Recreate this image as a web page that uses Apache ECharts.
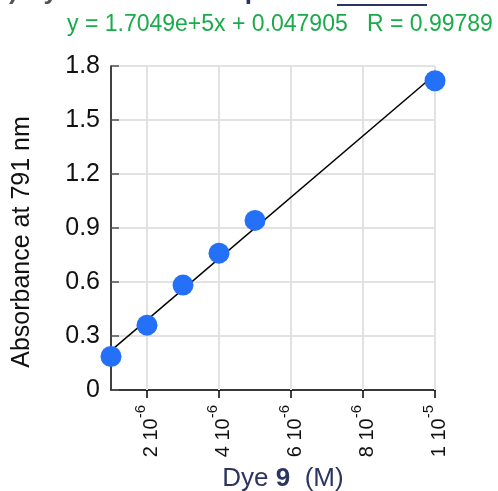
<!DOCTYPE html>
<html>
<head>
<meta charset="utf-8">
<script src="https://cdn.jsdelivr.net/npm/echarts@6/dist/echarts.min.js"></script>
<style>
  html, body { margin: 0; padding: 0; background: #fff; }
  #chart { width: 498px; height: 491px; }
</style>
</head>
<body>
<div id="chart"></div>
<script>
// Dye concentration in micromolar units (axis labels show n·10^-6 M)
const concentration = [1, 2, 3, 4, 5, 10];
// Measured absorbance at 791 nm
const absorbance = [0.186, 0.360, 0.583, 0.760, 0.942, 1.718];
// Least-squares fit reported for the data (x in M)
const fitSlope = 1.7049e5;
const fitIntercept = 0.047905;
const fitR = 0.99789;
// Tick labels
const xTicks = [2, 4, 6, 8, 10];
const xTickLabels = ['2 10|-6', '4 10|-6', '6 10|-6', '8 10|-6', '1 10|-5'];

const FONT = '"Liberation Sans", Arial, Helvetica, sans-serif';

const fitEnds = [concentration[0], concentration[concentration.length - 1]];
const fitLine = fitEnds.map(c => [c, fitSlope * c * 1e-6 + fitIntercept]);

const chart = echarts.init(document.getElementById('chart'), null, { renderer: 'canvas' });

chart.setOption({
  backgroundColor: '#fff',
  animation: false,
  grid: { left: 111, right: 63, top: 66, bottom: 101, containLabel: false, outerBoundsMode: 'none' },
  xAxis: {
    type: 'value',
    min: 1,
    max: 10,
    name: '{t|Dye }{b|9}{t|  (M)}',
    nameLocation: 'middle',
    nameGap: 76,
    nameTextStyle: {
      padding: [0, 0, 0, 20],
      rich: {
        t: { fontFamily: FONT, fontSize: 26, color: '#2b3560' },
        b: { fontFamily: FONT, fontSize: 26, color: '#2b3560', fontWeight: 'bold' }
      }
    },
    axisLine: { show: true, lineStyle: { color: '#000', width: 1.5 } },
    axisTick: { show: true, customValues: xTicks, length: 8, lineStyle: { color: '#000', width: 1.5 } },
    splitLine: { show: false },
    axisLabel: {
      customValues: xTicks,
      rotate: 90,
      margin: 15,
      formatter: function (v) {
        const i = xTicks.indexOf(v);
        if (i < 0) return '';
        const parts = xTickLabels[i].split('|');
        return '{n|' + parts[0] + '}{s|' + parts[1] + '}';
      },
      rich: {
        n: { fontFamily: FONT, fontSize: 20, color: '#111', lineHeight: 28, verticalAlign: 'bottom' },
        s: { fontFamily: FONT, fontSize: 15, color: '#111', lineHeight: 28, verticalAlign: 'top' }
      }
    }
  },
  yAxis: {
    type: 'value',
    min: 0,
    max: 1.8,
    interval: 0.3,
    name: 'Absorbance at 791 nm',
    nameLocation: 'middle',
    nameGap: 76,
    nameTextStyle: { fontFamily: FONT, fontSize: 25, color: '#111', padding: [0, 28, 0, 0] },
    axisLine: { show: true, lineStyle: { color: '#000', width: 1.5 } },
    axisTick: { show: true, inside: true, length: 8, lineStyle: { color: '#555', width: 1.5 } },
    splitLine: { show: true, lineStyle: { color: '#e2e2e2', width: 2 } },
    axisLabel: {
      fontFamily: FONT, fontSize: 25, color: '#111', margin: 11,
      formatter: v => String(Math.round(v * 10) / 10)
    }
  },
  series: [
    {
      type: 'line',
      data: fitLine,
      symbol: 'none',
      lineStyle: { color: '#000', width: 1.5 },
      z: 2,
      markLine: {
        silent: true,
        symbol: 'none',
        label: { show: false },
        lineStyle: { color: '#e2e2e2', width: 2, type: 'solid' },
        data: xTicks.map(v => ({ xAxis: v })),
        z: 1
      }
    },
    {
      type: 'scatter',
      data: concentration.map((c, i) => [c, absorbance[i]]),
      symbol: 'circle',
      symbolSize: 21,
      itemStyle: { color: '#2470f8', opacity: 1 },
      z: 3
    }
  ],
  graphic: [
    {
      type: 'text',
      left: 67,
      top: 13,
      style: {
        text: 'y = ' + fitSlope.toExponential(4) + 'x + ' + fitIntercept + '   R = ' + fitR,
        fontFamily: FONT,
        fontSize: 23,
        fill: '#1aab4a'
      }
    },
    {
      type: 'text',
      left: -7,
      top: -21,
      style: {
        text: '{g|b) Dye 9 }{d|Beer\'s Law plot 791 nm}',
        rich: {
          g: { fontFamily: FONT, fontSize: 26, fontWeight: 'bold', fill: '#555' },
          d: { fontFamily: FONT, fontSize: 26, fontWeight: 'bold', fill: '#2b3560' }
        }
      }
    },
    {
      type: 'rect',
      shape: { x: 337, y: 4, width: 90, height: 2 },
      style: { fill: '#2b3560' }
    }
  ]
});
</script>
</body>
</html>
